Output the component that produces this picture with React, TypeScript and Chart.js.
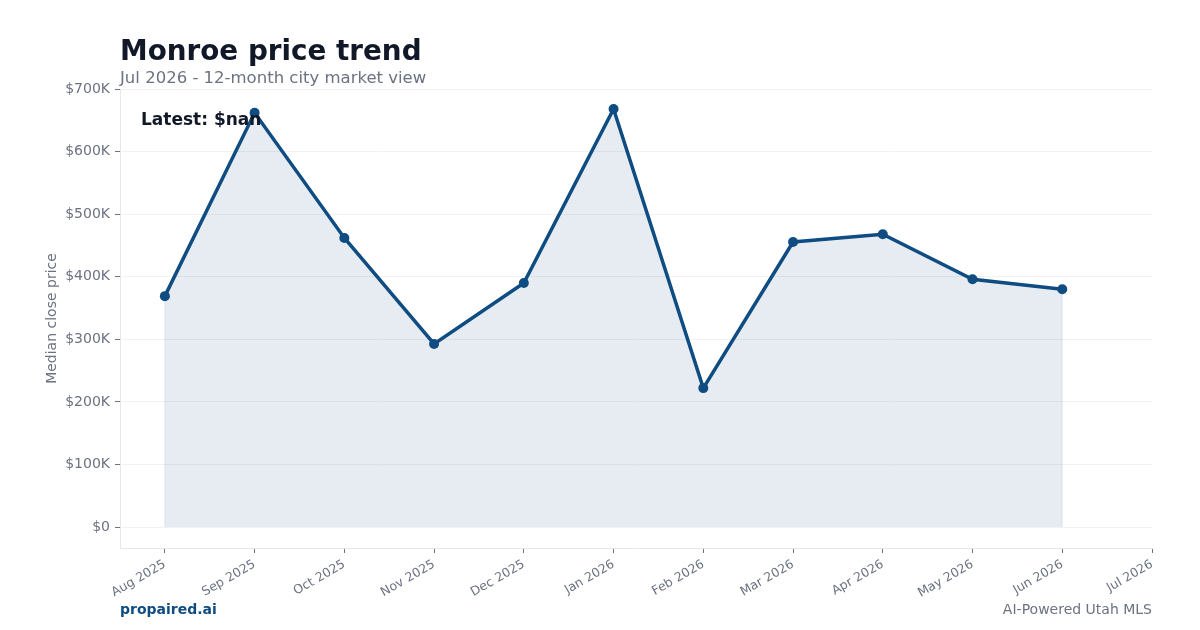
import React, { useEffect, useRef } from "react";
import { Chart, registerables } from "chart.js";

Chart.register(...registerables);

// Month labels along the x axis
const months = [
  "Aug 2025", "Sep 2025", "Oct 2025", "Nov 2025", "Dec 2025", "Jan 2026",
  "Feb 2026", "Mar 2026", "Apr 2026", "May 2026", "Jun 2026", "Jul 2026",
];

// Median close price per month (last month has no data yet)
const medianPrice: (number | null)[] = [
  369000, 662000, 462000, 292500, 390000, 668000,
  222000, 455500, 468000, 396000, 380000, null,
];

// Y tick values
const priceTicks = [0, 100000, 200000, 300000, 400000, 500000, 600000, 700000];

const titleText = "Monroe price trend";
const subtitleText = "Jul 2026 - 12-month city market view";
const latestText = "Latest: $nan";
const brandText = "propaired.ai";
const tagText = "AI-Powered Utah MLS";

const FONT = "'DejaVu Sans', sans-serif";
const LINE = "#0f4c81";
const GRAY = "#6b7280";
const DARK = "#111827";

const fmtPrice = (v: number) => (v === 0 ? "$0" : `$${Math.round(v / 1000)}K`);

// Faint outline on the vertical edges of the shaded area under the line
const areaEdgePlugin = {
  id: "areaEdges",
  beforeDatasetsDraw(chart: any) {
    const { ctx, scales } = chart;
    const idx = medianPrice
      .map((v, i) => (v == null ? -1 : i))
      .filter((i) => i >= 0);
    if (!idx.length) return;
    const ends = [idx[0], idx[idx.length - 1]];
    ctx.save();
    ctx.strokeStyle = "rgba(15,76,129,0.08)";
    ctx.lineWidth = 1.5;
    for (const i of ends) {
      const x = scales.x.getPixelForValue(i);
      ctx.beginPath();
      ctx.moveTo(x, scales.y.getPixelForValue(0));
      ctx.lineTo(x, scales.y.getPixelForValue(medianPrice[i] as number));
      ctx.stroke();
    }
    ctx.restore();
  },
};

const textPlugin = {
  id: "pageText",
  afterDraw(chart: any) {
    const { ctx, chartArea } = chart;
    ctx.save();
    ctx.textBaseline = "alphabetic";
    ctx.textAlign = "left";
    ctx.fillStyle = DARK;
    ctx.font = `bold 27.8px ${FONT}`;
    ctx.fillText(titleText, 120, 60);
    ctx.fillStyle = GRAY;
    ctx.font = `16.5px ${FONT}`;
    ctx.fillText(subtitleText, 120, 83);

    ctx.fillStyle = DARK;
    ctx.font = `bold 17px ${FONT}`;
    ctx.fillText(latestText, chartArea.left + 21, 125);

    ctx.fillStyle = LINE;
    ctx.font = `bold 14px ${FONT}`;
    ctx.fillText(brandText, 120, 614);
    ctx.fillStyle = GRAY;
    ctx.font = `14px ${FONT}`;
    ctx.textAlign = "right";
    ctx.fillText(tagText, 1152, 614);
    ctx.restore();
  },
};

export default function App() {
  const ref = useRef<HTMLCanvasElement | null>(null);

  useEffect(() => {
    document.body.style.margin = "0";
    const canvas = ref.current;
    if (!canvas) return;
    const points = medianPrice.map((y, i) => ({ x: i, y }));
    const chart = new Chart(canvas, {
      type: "line",
      data: {
        datasets: [
          {
            data: points as any,
            borderColor: LINE,
            borderWidth: 3.5,
            backgroundColor: "rgba(15,76,129,0.105)",
            fill: "origin",
            tension: 0,
            pointRadius: 5,
            pointBackgroundColor: LINE,
            pointBorderColor: LINE,
            pointBorderWidth: 0,
            spanGaps: false,
          },
        ],
      },
      options: {
        animation: false,
        responsive: false,
        maintainAspectRatio: false,
        layout: { padding: { top: 89, right: 48, bottom: 0, left: 0 } },
        plugins: {
          legend: { display: false },
          tooltip: { enabled: false },
          title: { display: false },
        },
        scales: {
          x: {
            type: "linear",
            min: -0.5,
            max: 11,
            afterBuildTicks: (scale: any) => {
              scale.ticks = months.map((_, i) => ({ value: i }));
            },
            afterFit: (scale: any) => {
              scale.height = 82;
            },
            grid: {
              drawOnChartArea: false,
              drawTicks: true,
              tickLength: 5,
              tickColor: GRAY,
            },
            border: { display: true, color: "#e5e7eb", width: 1 },
            ticks: {
              autoSkip: false,
              maxRotation: 30,
              minRotation: 30,
              padding: 4,
              color: GRAY,
              font: { family: FONT, size: 12.5 },
              callback: (v: any) => months[v] ?? "",
            },
          },
          y: {
            type: "linear",
            min: -33500,
            max: 700000,
            afterBuildTicks: (scale: any) => {
              scale.ticks = priceTicks.map((v) => ({ value: v }));
            },
            afterFit: (scale: any) => {
              scale.width = 120;
            },
            grid: {
              color: "#f1f2f4",
              lineWidth: 1,
              drawTicks: true,
              tickLength: 5,
              tickColor: GRAY,
            },
            border: { display: true, color: "#e5e7eb", width: 1 },
            ticks: {
              padding: 5,
              color: GRAY,
              font: { family: FONT, size: 14 },
              callback: (v: any) => fmtPrice(Number(v)),
            },
            title: {
              display: true,
              text: "Median close price",
              color: GRAY,
              font: { family: FONT, size: 14 },
              padding: { top: 44, bottom: 0 },
            },
          },
        },
      },
      plugins: [areaEdgePlugin, textPlugin],
    });
    return () => chart.destroy();
  }, []);

  return (
    <div style={{ position: "relative", width: 1200, height: 630, background: "#fff" }}>
      <canvas ref={ref} width={1200} height={630} style={{ display: "block" }} />
    </div>
  );
}
